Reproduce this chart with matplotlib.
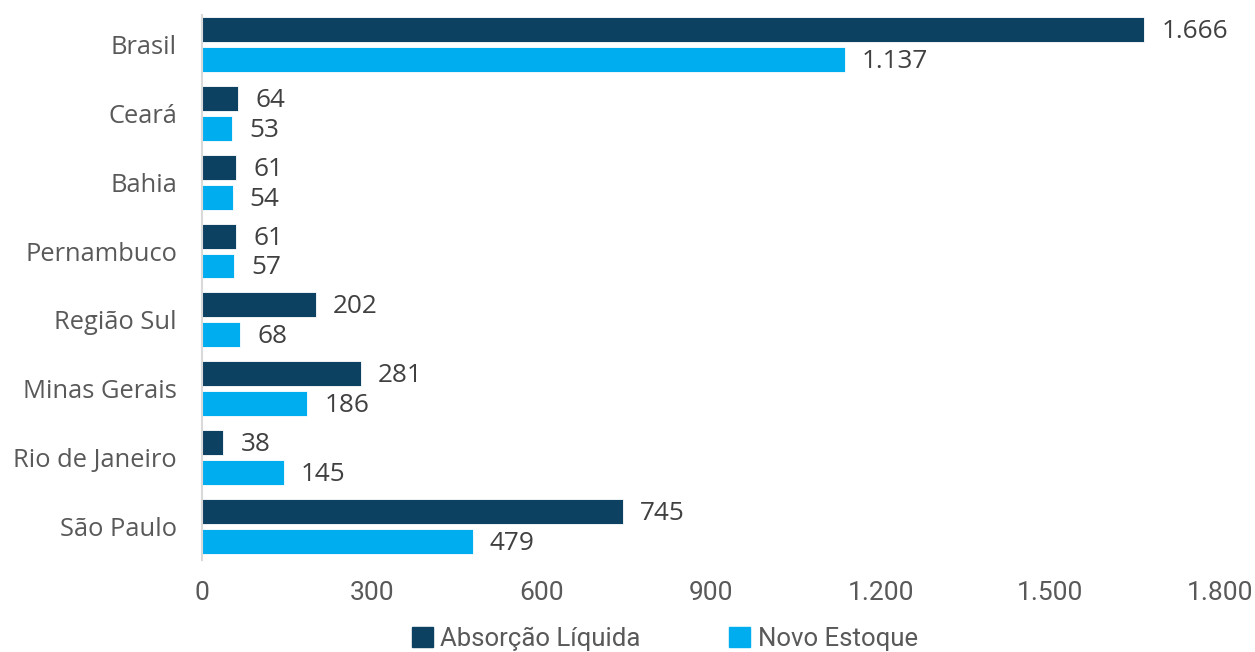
import matplotlib
matplotlib.use("Agg")
import matplotlib.pyplot as plt
import numpy as np
from matplotlib.patches import Patch

categories = ["Brasil", "Ceará", "Bahia", "Pernambuco", "Região Sul", "Minas Gerais", "Rio de Janeiro", "São Paulo"]
absorcao = [1666, 64, 61, 61, 202, 281, 38, 745]
estoque = [1137, 53, 54, 57, 68, 186, 145, 479]
xticks = [0, 300, 600, 900, 1200, 1500, 1800]
xticklabels = ["0", "300", "600", "900", "1.200", "1.500", "1.800"]
series_names = ["Absorção Líquida", "Novo Estoque"]

c_dark = "#0C4162"
c_light = "#00AEEF"
grey = "#595959"

def fmt(v):
    return f"{v:,}".replace(",", ".")

fig = plt.figure(figsize=(12.55, 6.52), dpi=100)
ax = fig.add_axes([202/1255, 1 - 560/652, (1220-202)/1255, (560-15)/652])

y = np.arange(len(categories))
h = 0.363
off = h/2 + 0.036
b1 = ax.barh(y - off, absorcao, height=h, color=c_dark, edgecolor="white", linewidth=0.6)
b2 = ax.barh(y + off, estoque, height=h, color=c_light, edgecolor="white", linewidth=0.6)

for bars, vals in ((b1, absorcao), (b2, estoque)):
    for bar, v in zip(bars, vals):
        ax.annotate(fmt(v), (bar.get_width(), bar.get_y() + bar.get_height()/2),
                    xytext=(17, -2), textcoords="offset pixels",
                    va="center", ha="left", fontsize=18.8, color="#404040", family="Open Sans")

ax.set_ylim(7.49, -0.43)
ax.set_yticks(y)
ax.set_yticklabels(categories, fontsize=18.4, color=grey, family="Open Sans")
ax.set_xlim(0, 1800)
ax.set_xticks(xticks)
ax.set_xticklabels(xticklabels, fontsize=19, color=grey, family="Roboto")
ax.tick_params(axis="both", length=0)
ax.tick_params(axis="y", pad=18)
ax.tick_params(axis="x", pad=15)
for s in ["top", "right", "bottom"]:
    ax.spines[s].set_visible(False)
ax.spines["left"].set_color("#D9D9D9")
ax.spines["left"].set_linewidth(1.5)

handles = [Patch(color=c_dark), Patch(color=c_light)]
leg = fig.legend(handles, series_names, loc="center", bbox_to_anchor=(665/1255, 1 - 639/652),
                 ncol=2, frameon=False, handlelength=0.8, handleheight=0.8,
                 handletextpad=0.3, columnspacing=3.45, prop={"family": "Roboto", "size": 18.5})
for t in leg.get_texts():
    t.set_color(grey)

fig.savefig("out.png", dpi=100)
